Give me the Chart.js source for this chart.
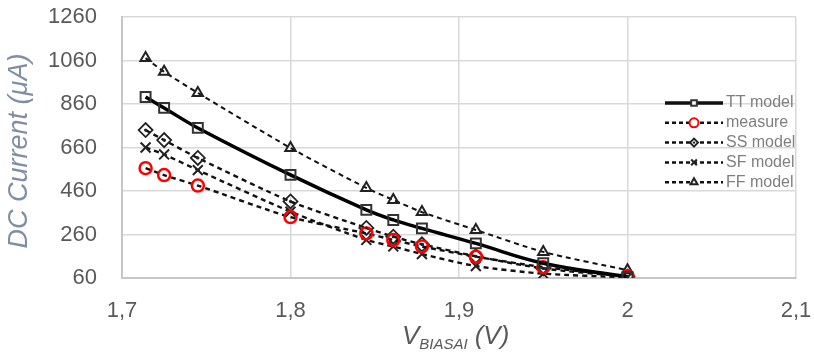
<!DOCTYPE html>
<html>
<head>
<meta charset="utf-8">
<script src="https://cdn.jsdelivr.net/npm/chart.js@4/dist/chart.umd.min.js"></script>
<style>
  html, body { margin: 0; padding: 0; background: #fff; }
  #wrap { width: 814px; height: 356px; position: relative; }
</style>
</head>
<body>
<div id="wrap"><canvas id="chartDC"></canvas></div>
<script>
// data
const vBias = [1.714, 1.725, 1.745, 1.8, 1.845, 1.861, 1.878, 1.91, 1.95, 2.0];
const ttModel = [892, 842, 750, 534, 373, 327, 288, 219, 128, 65];
const measure = [565, 533, 485, 340, 265, 235, 205, 158, 110, 68];
const ssModel = [740, 694, 612, 412, 290, 250, 215, 160, 104, 66];
const sfModel = [660, 628, 556, 365, 235, 205, 170, 115, 80, 63];
const ffModel = [1071, 1008, 911, 658, 474, 419, 363, 281, 180, 96];

const xTickValues = [1.7, 1.8, 1.9, 2.0, 2.1];
const xTickLabels = ['1,7', '1,8', '1,9', '2', '2,1'];
const yTickValues = [60, 260, 460, 660, 860, 1060, 1260];

const tickColor = '#595959';
const gridColor = '#d9d9d9';
const fontFam = '"Liberation Sans", Arial, sans-serif';

function pts(ys) {
    return vBias.map((x, i) => ({ x: x, y: ys[i] }));
}

function marker(ctx, ds, x, y, r) {
    ctx.save();
    ctx.strokeStyle = ds.pointBorderColor;
    ctx.fillStyle = '#fff';
    ctx.lineWidth = 2;
    Chart.helpers.drawPoint(ctx, { pointStyle: ds.pointStyle, radius: r, borderWidth: 2, rotation: 0 }, x, y);
    ctx.restore();
}

// punto dentro il rombo + legenda + titoli assi
const extras = {
    id: 'extras',
    afterDatasetsDraw(chart) {
        const ctx = chart.ctx;
        const meta = chart.getDatasetMeta(2);
        ctx.save();
        ctx.fillStyle = '#222';
        meta.data.forEach(p => {
            ctx.beginPath();
            ctx.arc(p.x, p.y, 1.6, 0, Math.PI * 2);
            ctx.fill();
        });
        ctx.restore();
    },
    afterDraw(chart) {
        const ctx = chart.ctx;
        ctx.save();

        // legend
        const x0 = 665, x1 = 723, xm = 694, tx = 726;
        let y = 103;
        chart.data.datasets.forEach((ds, i) => {
            ctx.beginPath();
            ctx.strokeStyle = '#111';
            ctx.lineWidth = i === 0 ? 3.5 : 2.5;
            ctx.setLineDash(i === 0 ? [] : [4, 3]);
            ctx.moveTo(x0, y);
            ctx.lineTo(x1, y);
            ctx.stroke();
            ctx.setLineDash([]);
            marker(ctx, ds, xm, y, i === 1 ? 4.5 : 4);
            if (i === 2) {
                ctx.fillStyle = '#222';
                ctx.beginPath();
                ctx.arc(xm, y, 1.2, 0, Math.PI * 2);
                ctx.fill();
            }
            ctx.fillStyle = '#7f7f7f';
            ctx.font = '16px ' + fontFam;
            ctx.textBaseline = 'middle';
            ctx.textAlign = 'left';
            ctx.fillText(ds.label, tx, y);
            y += 19.8;
        });

        // y axis title
        ctx.save();
        ctx.translate(19, 151);
        ctx.rotate(-Math.PI / 2);
        ctx.fillStyle = '#7f8ea3';
        ctx.font = 'italic 27px ' + fontFam;
        ctx.textAlign = 'center';
        ctx.textBaseline = 'middle';
        ctx.fillText('DC Current (\u03bcA)', 0, 0);
        ctx.restore();

        // x axis title with subscript
        ctx.fillStyle = tickColor;
        ctx.textBaseline = 'alphabetic';
        ctx.textAlign = 'left';
        const base = 344;
        ctx.font = 'italic 26px ' + fontFam;
        let cx = 402;
        ctx.fillText('V', cx, base);
        cx += ctx.measureText('V').width;
        ctx.font = 'italic 15px ' + fontFam;
        ctx.fillText('BIASAI', cx, base + 5);
        cx += ctx.measureText('BIASAI').width + 7;
        ctx.font = 'italic 26px ' + fontFam;
        ctx.fillText('(V)', cx, base);
        ctx.restore();
    }
};

const dashed = [5, 4];

new Chart(document.getElementById('chartDC'), {
    type: 'scatter',
    data: {
        datasets: [{
            label: 'TT model',
            data: pts(ttModel),
            showLine: true,
            borderColor: '#000',
            borderWidth: 3.5,
            tension: 0.4,
            pointStyle: 'rect',
            pointRadius: 7,
            pointBorderColor: '#333',
            pointBackgroundColor: 'rgba(0,0,0,0)',
            pointBorderWidth: 2
        }, {
            label: 'measure',
            data: pts(measure),
            showLine: true,
            borderColor: '#111',
            borderWidth: 2.4,
            borderDash: dashed,
            tension: 0.25,
            pointStyle: 'circle',
            pointRadius: 6,
            pointBorderColor: '#ff0000',
            pointBackgroundColor: 'rgba(0,0,0,0)',
            pointBorderWidth: 2.5
        }, {
            label: 'SS model',
            data: pts(ssModel),
            showLine: true,
            borderColor: '#111',
            borderWidth: 2.4,
            borderDash: dashed,
            tension: 0.25,
            pointStyle: 'rectRot',
            pointRadius: 7,
            pointBorderColor: '#222',
            pointBackgroundColor: 'rgba(0,0,0,0)',
            pointBorderWidth: 1.8
        }, {
            label: 'SF model',
            data: pts(sfModel),
            showLine: true,
            borderColor: '#111',
            borderWidth: 2.4,
            borderDash: dashed,
            tension: 0.25,
            pointStyle: 'crossRot',
            pointRadius: 7,
            pointBorderColor: '#222',
            pointBackgroundColor: 'rgba(0,0,0,0)',
            pointBorderWidth: 2
        }, {
            label: 'FF model',
            data: pts(ffModel),
            showLine: true,
            borderColor: '#111',
            borderWidth: 2,
            borderDash: dashed,
            tension: 0.25,
            pointStyle: 'triangle',
            pointRadius: 6,
            pointBorderColor: '#222',
            pointBackgroundColor: 'rgba(0,0,0,0)',
            pointBorderWidth: 2
        }]
    },
    options: {
        responsive: true,
        maintainAspectRatio: false,
        animation: false,
        layout: { padding: { top: 17, right: 18, left: 0, bottom: 0 } },
        plugins: {
            legend: { display: false },
            tooltip: { enabled: false }
        },
        scales: {
            x: {
                type: 'linear',
                min: 1.7,
                max: 2.1,
                afterBuildTicks: s => { s.ticks = xTickValues.map(v => ({ value: v })); },
                afterFit: s => { s.height = 78; s.paddingLeft = 0; s.paddingRight = 0; },
                grid: { color: gridColor, lineWidth: 1.5, drawTicks: false },
                border: { color: '#c6c6c6', width: 2 },
                ticks: {
                    padding: 20,
                    color: tickColor,
                    font: { family: fontFam, size: 22 },
                    callback: (v, i) => xTickLabels[i]
                }
            },
            y: {
                min: 60,
                max: 1260,
                afterBuildTicks: s => { s.ticks = yTickValues.map(v => ({ value: v })); },
                afterFit: s => { s.width = 122; s.paddingTop = 0; s.paddingBottom = 0; },
                grid: { color: gridColor, lineWidth: 1.5, drawTicks: false },
                border: { color: '#c6c6c6', width: 2 },
                ticks: {
                    padding: 25,
                    color: tickColor,
                    font: { family: fontFam, size: 22 },
                    callback: v => String(v)
                }
            }
        }
    },
    plugins: [extras]
});
</script>
</body>
</html>
